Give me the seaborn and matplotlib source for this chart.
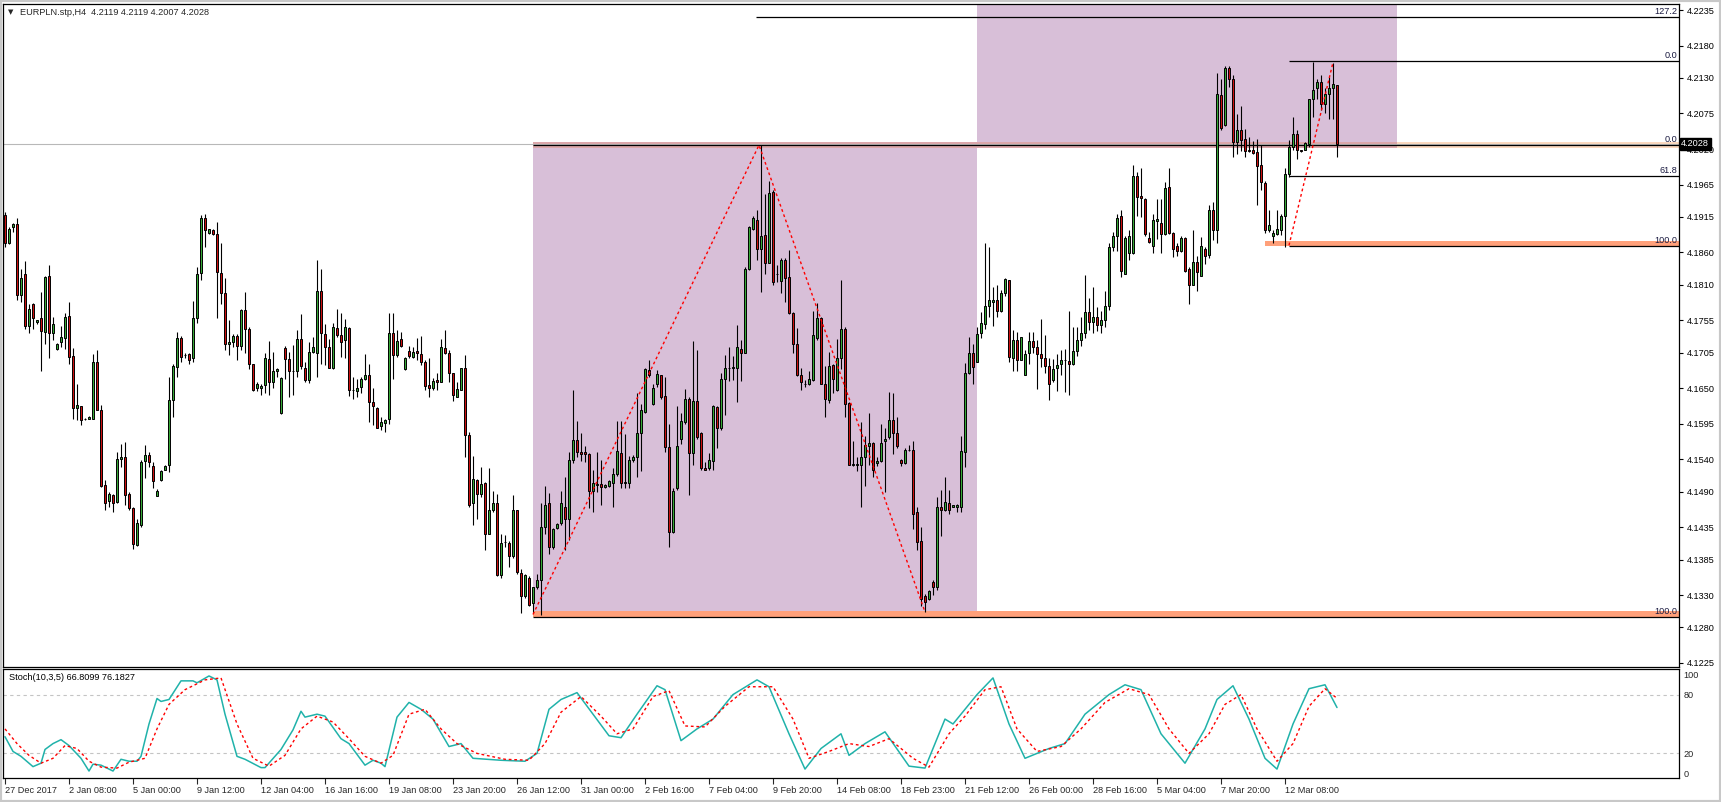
import numpy as np
import matplotlib
matplotlib.use("Agg")
import matplotlib.pyplot as plt
from matplotlib.patches import Rectangle
import seaborn as sns

# EURPLN H4 candles (bar 0 = 27 Dec 2017 00:00)
opens = [
    4.1918, 4.1874, 4.1899, 4.1904, 4.1794, 4.1826, 4.1746, 4.1781, 4.1752, 4.1758,
    4.1737, 4.1824, 4.1735, 4.1710, 4.1721, 4.1728, 4.1761, 4.1700, 4.1620, 4.1623,
    4.1602, 4.1603, 4.1603, 4.1691, 4.1617, 4.1500, 4.1476, 4.1485, 4.1474, 4.1541,
    4.1544, 4.1487, 4.1465, 4.1408, 4.1439, 4.1537, 4.1547, 4.1529, 4.1484, 4.1508,
    4.1524, 4.1532, 4.1632, 4.1683, 4.1727, 4.1701, 4.1703, 4.1696, 4.1758, 4.1828,
    4.1914, 4.1890, 4.1894, 4.1889, 4.1828, 4.1797, 4.1719, 4.1722, 4.1731, 4.1716,
    4.1771, 4.1742, 4.1687, 4.1651, 4.1651, 4.1655, 4.1695, 4.1660, 4.1677, 4.1611,
    4.1712, 4.1695, 4.1677, 4.1676, 4.1726, 4.1682, 4.1662, 4.1706, 4.1705, 4.1800,
    4.1734, 4.1713, 4.1681, 4.1743, 4.1732, 4.1724, 4.1743, 4.1647, 4.1646, 4.1652,
    4.1664, 4.1671, 4.1629, 4.1620, 4.1592, 4.1596, 4.1602, 4.1736, 4.1702, 4.1726,
    4.1680, 4.1708, 4.1699, 4.1707, 4.1703, 4.1691, 4.1655, 4.1651, 4.1663, 4.1660,
    4.1712, 4.1705, 4.1673, 4.1637, 4.1648, 4.1682, 4.1578, 4.1472, 4.1508, 4.1486,
    4.1504, 4.1425, 4.1461, 4.1473, 4.1361, 4.1412, 4.1410, 4.1390, 4.1461, 4.1364,
    4.1328, 4.1357, 4.1318, 4.1342, 4.1354, 4.1435, 4.1472, 4.1405, 4.1434, 4.1441,
    4.1467, 4.1448, 4.1539, 4.1570, 4.1551, 4.1552, 4.1548, 4.1491, 4.1500, 4.1502,
    4.1497, 4.1498, 4.1504, 4.1518, 4.1550, 4.1504, 4.1504, 4.1539, 4.1544, 4.1580,
    4.1613, 4.1678, 4.1625, 4.1656, 4.1670, 4.1638, 4.1559, 4.1428, 4.1495, 4.1571,
    4.1598, 4.1634, 4.1550, 4.1631, 4.1580, 4.1527, 4.1526, 4.1538, 4.1621, 4.1589,
    4.1665, 4.1682, 4.1682, 4.1682, 4.1711, 4.1705, 4.1834, 4.1896, 4.1910, 4.1865,
    4.1887, 4.1844, 4.1954, 4.1826, 4.1816, 4.1848, 4.1822, 4.1767, 4.1719, 4.1671,
    4.1657, 4.1657, 4.1663, 4.1728, 4.1759, 4.1657, 4.1632, 4.1686, 4.1647, 4.1697,
    4.1742, 4.1627, 4.1532, 4.1532, 4.1532, 4.1543, 4.1560, 4.1566, 4.1534, 4.1538,
    4.1568, 4.1574, 4.1601, 4.1580, 4.1539, 4.1534, 4.1555, 4.1554, 4.1458, 4.1413,
    4.1328, 4.1324, 4.1350, 4.1342, 4.1467, 4.1462, 4.1472, 4.1467, 4.1467, 4.1467,
    4.1552, 4.1673, 4.1705, 4.1691, 4.1736, 4.1749, 4.1777, 4.1784, 4.1786, 4.1770,
    4.1797, 4.1817, 4.1697, 4.1724, 4.1694, 4.1671, 4.1705, 4.1723, 4.1714, 4.1703,
    4.1697, 4.1685, 4.1663, 4.1681, 4.1687, 4.1693, 4.1692, 4.1688, 4.1707, 4.1725,
    4.1735, 4.1768, 4.1752, 4.1760, 4.1748, 4.1755, 4.1777, 4.1869, 4.1885, 4.1916,
    4.1827, 4.1859, 4.1859, 4.1978, 4.1948, 4.1943, 4.1883, 4.1870, 4.1909, 4.1906,
    4.1889, 4.1962, 4.1890, 4.1870, 4.1863, 4.1883, 4.1834, 4.1810, 4.1845, 4.1824,
    4.1866, 4.1856, 4.1926, 4.1894, 4.2104, 4.2057, 4.2146, 4.2129, 4.2031, 4.2049,
    4.2035, 4.2019, 4.2019, 4.2015, 4.1996, 4.1968, 4.1894, 4.1885, 4.1888, 4.1895,
    4.1916, 4.1981, 4.2023, 4.2043, 4.2018, 4.2019, 4.2027, 4.2097, 4.2114, 4.2124,
    4.2089, 4.2105, 4.2114, 4.2119,
]
highs = [
    4.1923, 4.1900, 4.1906, 4.1913, 4.1834, 4.1847, 4.1781, 4.1782, 4.1756, 4.1799,
    4.1823, 4.1840, 4.1760, 4.1720, 4.1746, 4.1766, 4.1783, 4.1712, 4.1657, 4.1623,
    4.1604, 4.1607, 4.1703, 4.1709, 4.1624, 4.1508, 4.1490, 4.1487, 4.1551, 4.1564,
    4.1567, 4.1490, 4.1467, 4.1448, 4.1539, 4.1562, 4.1551, 4.1536, 4.1494, 4.1523,
    4.1531, 4.1668, 4.1688, 4.1737, 4.1731, 4.1705, 4.1705, 4.1785, 4.1837, 4.1918,
    4.1920, 4.1897, 4.1896, 4.1907, 4.1874, 4.1821, 4.1755, 4.1734, 4.1734, 4.1773,
    4.1799, 4.1744, 4.1688, 4.1660, 4.1657, 4.1705, 4.1723, 4.1706, 4.1682, 4.1668,
    4.1716, 4.1706, 4.1717, 4.1740, 4.1765, 4.1691, 4.1722, 4.1729, 4.1848, 4.1835,
    4.1750, 4.1726, 4.1751, 4.1772, 4.1767, 4.1757, 4.1744, 4.1668, 4.1664, 4.1667,
    4.1703, 4.1688, 4.1650, 4.1621, 4.1606, 4.1603, 4.1767, 4.1767, 4.1740, 4.1737,
    4.1698, 4.1716, 4.1714, 4.1728, 4.1731, 4.1694, 4.1696, 4.1666, 4.1674, 4.1726,
    4.1740, 4.1709, 4.1674, 4.1660, 4.1682, 4.1701, 4.1583, 4.1545, 4.1510, 4.1528,
    4.1505, 4.1526, 4.1491, 4.1487, 4.1424, 4.1423, 4.1414, 4.1485, 4.1462, 4.1371,
    4.1363, 4.1359, 4.1343, 4.1363, 4.1472, 4.1498, 4.1488, 4.1434, 4.1442, 4.1491,
    4.1512, 4.1551, 4.1648, 4.1599, 4.1580, 4.1560, 4.1550, 4.1523, 4.1551, 4.1539,
    4.1502, 4.1508, 4.1526, 4.1599, 4.1600, 4.1579, 4.1545, 4.1546, 4.1642, 4.1625,
    4.1682, 4.1694, 4.1657, 4.1678, 4.1671, 4.1667, 4.1594, 4.1496, 4.1622, 4.1611,
    4.1649, 4.1637, 4.1723, 4.1709, 4.1583, 4.1536, 4.1550, 4.1624, 4.1622, 4.1674,
    4.1701, 4.1713, 4.1700, 4.1748, 4.1725, 4.1838, 4.1901, 4.1916, 4.1926, 4.2026,
    4.1951, 4.1971, 4.1957, 4.1840, 4.1851, 4.1851, 4.1864, 4.1768, 4.1743, 4.1682,
    4.1662, 4.1677, 4.1769, 4.1782, 4.1760, 4.1684, 4.1706, 4.1688, 4.1726, 4.1817,
    4.1744, 4.1629, 4.1568, 4.1544, 4.1597, 4.1576, 4.1612, 4.1567, 4.1544, 4.1595,
    4.1588, 4.1644, 4.1642, 4.1605, 4.1541, 4.1557, 4.1562, 4.1569, 4.1466, 4.1436,
    4.1331, 4.1338, 4.1354, 4.1482, 4.1493, 4.1513, 4.1493, 4.1470, 4.1471, 4.1576,
    4.1689, 4.1729, 4.1719, 4.1745, 4.1768, 4.1875, 4.1869, 4.1807, 4.1809, 4.1802,
    4.1821, 4.1818, 4.1740, 4.1737, 4.1730, 4.1709, 4.1737, 4.1737, 4.1725, 4.1757,
    4.1732, 4.1697, 4.1695, 4.1703, 4.1709, 4.1711, 4.1769, 4.1745, 4.1745, 4.1760,
    4.1825, 4.1790, 4.1807, 4.1775, 4.1770, 4.1800, 4.1875, 4.1892, 4.1920, 4.1926,
    4.1886, 4.1895, 4.1995, 4.1985, 4.1990, 4.1945, 4.1892, 4.1920, 4.1943, 4.1943,
    4.1969, 4.1991, 4.1892, 4.1874, 4.1885, 4.1884, 4.1838, 4.1894, 4.1854, 4.1884,
    4.1869, 4.1933, 4.1938, 4.2138, 4.2129, 4.2149, 4.2149, 4.2134, 4.2074, 4.2086,
    4.2051, 4.2038, 4.2033, 4.2035, 4.2026, 4.1970, 4.1925, 4.1894, 4.1925, 4.1920,
    4.1990, 4.2034, 4.2069, 4.2050, 4.2019, 4.2031, 4.2098, 4.2155, 4.2128, 4.2135,
    4.2115, 4.2132, 4.2153, 4.2119,
]
lows = [
    4.1869, 4.1873, 4.1892, 4.1787, 4.1784, 4.1741, 4.1735, 4.1741, 4.1750, 4.1677,
    4.1718, 4.1697, 4.1724, 4.1709, 4.1714, 4.1711, 4.1687, 4.1603, 4.1601, 4.1593,
    4.1601, 4.1602, 4.1602, 4.1616, 4.1497, 4.1461, 4.1466, 4.1459, 4.1472, 4.1528,
    4.1469, 4.1461, 4.1402, 4.1406, 4.1435, 4.1511, 4.1528, 4.1496, 4.1484, 4.1507,
    4.1523, 4.1521, 4.1605, 4.1668, 4.1691, 4.1696, 4.1688, 4.1691, 4.1751, 4.1817,
    4.1869, 4.1888, 4.1887, 4.1759, 4.1781, 4.1709, 4.1701, 4.1714, 4.1693, 4.1709,
    4.1704, 4.1680, 4.1645, 4.1645, 4.1639, 4.1642, 4.1639, 4.1650, 4.1668, 4.1610,
    4.1664, 4.1636, 4.1639, 4.1668, 4.1679, 4.1660, 4.1658, 4.1704, 4.1668, 4.1688,
    4.1686, 4.1682, 4.1679, 4.1730, 4.1699, 4.1696, 4.1638, 4.1634, 4.1637, 4.1642,
    4.1663, 4.1598, 4.1593, 4.1588, 4.1585, 4.1583, 4.1595, 4.1664, 4.1699, 4.1714,
    4.1678, 4.1696, 4.1696, 4.1694, 4.1686, 4.1648, 4.1637, 4.1647, 4.1647, 4.1659,
    4.1703, 4.1660, 4.1631, 4.1636, 4.1647, 4.1544, 4.1466, 4.1439, 4.1447, 4.1482,
    4.1400, 4.1424, 4.1459, 4.1359, 4.1357, 4.1405, 4.1373, 4.1388, 4.1363, 4.1302,
    4.1326, 4.1313, 4.1303, 4.1340, 4.1299, 4.1425, 4.1394, 4.1402, 4.1433, 4.1438,
    4.1400, 4.1415, 4.1534, 4.1544, 4.1538, 4.1536, 4.1464, 4.1459, 4.1489, 4.1469,
    4.1496, 4.1497, 4.1467, 4.1515, 4.1495, 4.1495, 4.1495, 4.1536, 4.1513, 4.1522,
    4.1611, 4.1667, 4.1624, 4.1652, 4.1634, 4.1551, 4.1405, 4.1426, 4.1493, 4.1564,
    4.1595, 4.1485, 4.1532, 4.1572, 4.1524, 4.1523, 4.1524, 4.1523, 4.1558, 4.1586,
    4.1609, 4.1661, 4.1663, 4.1629, 4.1661, 4.1704, 4.1833, 4.1895, 4.1849, 4.1799,
    4.1826, 4.1843, 4.1809, 4.1815, 4.1797, 4.1784, 4.1765, 4.1705, 4.1669, 4.1648,
    4.1652, 4.1655, 4.1661, 4.1725, 4.1656, 4.1606, 4.1627, 4.1642, 4.1645, 4.1680,
    4.1606, 4.1531, 4.1529, 4.1522, 4.1466, 4.1499, 4.1531, 4.1513, 4.1529, 4.1536,
    4.1489, 4.1572, 4.1549, 4.1557, 4.1529, 4.1533, 4.1553, 4.1433, 4.1400, 4.1313,
    4.1304, 4.1323, 4.1330, 4.1338, 4.1422, 4.1460, 4.1456, 4.1466, 4.1459, 4.1459,
    4.1528, 4.1672, 4.1657, 4.1690, 4.1728, 4.1741, 4.1760, 4.1746, 4.1760, 4.1768,
    4.1793, 4.1691, 4.1677, 4.1677, 4.1693, 4.1670, 4.1688, 4.1705, 4.1649, 4.1683,
    4.1673, 4.1632, 4.1660, 4.1646, 4.1670, 4.1644, 4.1639, 4.1686, 4.1700, 4.1715,
    4.1728, 4.1740, 4.1735, 4.1738, 4.1735, 4.1745, 4.1771, 4.1863, 4.1863, 4.1822,
    4.1826, 4.1849, 4.1857, 4.1916, 4.1915, 4.1886, 4.1874, 4.1859, 4.1881, 4.1859,
    4.1887, 4.1889, 4.1853, 4.1854, 4.1861, 4.1830, 4.1781, 4.1809, 4.1801, 4.1823,
    4.1842, 4.1852, 4.1880, 4.1875, 4.2049, 4.2055, 4.2116, 4.2007, 4.2012, 4.2017,
    4.2008, 4.2016, 4.2012, 4.1933, 4.1956, 4.1890, 4.1892, 4.1875, 4.1887, 4.1887,
    4.1869, 4.1976, 4.2018, 4.2004, 4.2016, 4.2018, 4.2023, 4.2070, 4.2098, 4.2080,
    4.2076, 4.2066, 4.2066, 4.2007,
]
closes = [
    4.1874, 4.1897, 4.1904, 4.1794, 4.1821, 4.1746, 4.1773, 4.1759, 4.1755, 4.1739,
    4.1822, 4.1735, 4.1750, 4.1718, 4.1729, 4.1760, 4.1699, 4.1620, 4.1624, 4.1601,
    4.1603, 4.1605, 4.1691, 4.1617, 4.1499, 4.1473, 4.1487, 4.1473, 4.1541, 4.1544,
    4.1485, 4.1464, 4.1409, 4.1442, 4.1536, 4.1546, 4.1536, 4.1507, 4.1491, 4.1522,
    4.1530, 4.1632, 4.1684, 4.1727, 4.1699, 4.1701, 4.1694, 4.1758, 4.1826, 4.1914,
    4.1895, 4.1896, 4.1888, 4.1830, 4.1797, 4.1719, 4.1722, 4.1731, 4.1716, 4.1771,
    4.1742, 4.1687, 4.1648, 4.1657, 4.1654, 4.1696, 4.1660, 4.1677, 4.1679, 4.1666,
    4.1695, 4.1677, 4.1677, 4.1726, 4.1684, 4.1662, 4.1706, 4.1713, 4.1800, 4.1735,
    4.1713, 4.1682, 4.1744, 4.1732, 4.1722, 4.1744, 4.1648, 4.1647, 4.1651, 4.1664,
    4.1670, 4.1629, 4.1623, 4.1589, 4.1597, 4.1601, 4.1736, 4.1702, 4.1723, 4.1716,
    4.1696, 4.1700, 4.1706, 4.1704, 4.1691, 4.1653, 4.1651, 4.1661, 4.1659, 4.1714,
    4.1705, 4.1673, 4.1640, 4.1649, 4.1681, 4.1578, 4.1469, 4.1509, 4.1486, 4.1502,
    4.1425, 4.1461, 4.1473, 4.1361, 4.1411, 4.1412, 4.1391, 4.1461, 4.1365, 4.1328,
    4.1361, 4.1314, 4.1342, 4.1354, 4.1436, 4.1470, 4.1405, 4.1433, 4.1440, 4.1472,
    4.1447, 4.1539, 4.1570, 4.1551, 4.1549, 4.1549, 4.1491, 4.1504, 4.1502, 4.1497,
    4.1501, 4.1506, 4.1518, 4.1553, 4.1504, 4.1504, 4.1539, 4.1544, 4.1580, 4.1616,
    4.1680, 4.1671, 4.1651, 4.1672, 4.1637, 4.1559, 4.1427, 4.1491, 4.1560, 4.1599,
    4.1634, 4.1550, 4.1630, 4.1575, 4.1526, 4.1524, 4.1539, 4.1622, 4.1589, 4.1665,
    4.1682, 4.1681, 4.1682, 4.1713, 4.1705, 4.1834, 4.1899, 4.1913, 4.1865, 4.1886,
    4.1843, 4.1952, 4.1815, 4.1826, 4.1849, 4.1820, 4.1766, 4.1719, 4.1671, 4.1659,
    4.1657, 4.1665, 4.1732, 4.1759, 4.1657, 4.1634, 4.1684, 4.1665, 4.1696, 4.1741,
    4.1626, 4.1532, 4.1532, 4.1532, 4.1543, 4.1562, 4.1566, 4.1524, 4.1538, 4.1566,
    4.1572, 4.1601, 4.1580, 4.1561, 4.1534, 4.1555, 4.1554, 4.1456, 4.1412, 4.1324,
    4.1320, 4.1336, 4.1342, 4.1466, 4.1462, 4.1474, 4.1461, 4.1470, 4.1470, 4.1553,
    4.1674, 4.1705, 4.1683, 4.1734, 4.1751, 4.1777, 4.1786, 4.1787, 4.1770, 4.1797,
    4.1819, 4.1699, 4.1724, 4.1694, 4.1729, 4.1703, 4.1723, 4.1714, 4.1703, 4.1697,
    4.1685, 4.1656, 4.1680, 4.1686, 4.1694, 4.1693, 4.1687, 4.1707, 4.1725, 4.1735,
    4.1768, 4.1752, 4.1760, 4.1748, 4.1755, 4.1777, 4.1869, 4.1885, 4.1914, 4.1831,
    4.1883, 4.1885, 4.1978, 4.1946, 4.1944, 4.1888, 4.1876, 4.1910, 4.1912, 4.1889,
    4.1960, 4.1890, 4.1866, 4.1862, 4.1883, 4.1831, 4.1810, 4.1845, 4.1829, 4.1870,
    4.1855, 4.1926, 4.1894, 4.2105, 4.2053, 4.2146, 4.2129, 4.2031, 4.2049, 4.2034,
    4.2017, 4.2017, 4.2014, 4.1994, 4.1969, 4.1894, 4.1902, 4.1890, 4.1896, 4.1916,
    4.1981, 4.2023, 4.2043, 4.2018, 4.2017, 4.2030, 4.2097, 4.2112, 4.2124, 4.2090,
    4.2105, 4.2115, 4.2121, 4.2028,
]

# Stoch(10,3,5) main and signal lines, read at their turning points (bar index, value)
stoch_k_bars = [0, 2, 4, 7, 9, 10, 12, 14, 16, 19, 21, 22, 24, 27, 29, 31, 33, 34, 36, 38,
                39, 41, 44, 47, 48, 51, 53, 55, 58, 60, 64, 65, 69, 72, 74, 75, 78, 80, 84, 86,
                88, 90, 92, 94, 95, 98, 101, 104, 107, 111, 114, 117, 124, 130, 133, 136, 139, 143, 147, 151,
                154, 158, 163, 165, 169, 173, 177, 182, 188, 191, 196, 200, 204, 209, 211, 215, 220, 226, 230, 235,
                237, 243, 247, 251, 255, 261, 265, 270, 276, 280, 284, 289, 295, 300, 303, 307, 311, 315, 318, 322,
                326, 330, 333]
stoch_k = [37, 22, 17, 6.5, 10, 24, 30, 34, 28, 15, 2, 9, 8, 2, 14, 12, 12, 17, 50, 76,
           73, 75, 94, 94, 92, 99, 95, 60, 17, 14, 5.5, 5.5, 24, 44, 63, 57, 60, 58, 35, 30,
           19, 8, 13, 10, 6.5, 57, 72, 65, 55, 27, 30, 15, 13, 12, 20, 65, 75, 82, 60, 38,
           36, 60, 89, 85, 33, 45, 55, 80, 95, 88, 40, 4, 25, 40, 18, 30, 42, 7, 5, 55,
           50, 80, 97, 50, 15, 25, 30, 60, 80, 90, 85, 40, 10, 45, 75, 89, 55, 15, 4, 50,
           86, 90, 66.8]
stoch_d_bars = [0, 3, 6, 9, 12, 15, 18, 21, 24, 28, 31, 35, 38, 41, 45, 50, 54, 58, 62, 66,
                70, 74, 78, 82, 86, 90, 94, 97, 101, 105, 109, 113, 118, 125, 131, 135, 139, 144, 149, 153,
                157, 162, 166, 170, 175, 180, 186, 192, 197, 201, 206, 211, 216, 221, 227, 231, 236, 240, 245, 249,
                253, 258, 264, 269, 275, 281, 286, 291, 296, 301, 305, 309, 313, 318, 322, 326, 330, 333]
stoch_d = [45, 30, 18, 10, 15, 28, 25, 12, 6, 5, 11, 15, 45, 70, 85, 95, 97, 50, 15, 7,
           18, 45, 58, 52, 35, 17, 10, 18, 60, 65, 45, 30, 20, 14, 13, 30, 62, 78, 58, 40,
           45, 78, 84, 48, 47, 68, 88, 88, 55, 15, 22, 30, 27, 35, 15, 6, 40, 58, 85, 88,
           45, 22, 27, 45, 72, 86, 80, 45, 20, 40, 70, 80, 45, 12, 30, 68, 86, 76.2]

x_labels = ["27 Dec 2017", "2 Jan 08:00", "5 Jan 00:00", "9 Jan 12:00", "12 Jan 04:00",
            "16 Jan 16:00", "19 Jan 08:00", "23 Jan 20:00", "26 Jan 12:00", "31 Jan 00:00",
            "2 Feb 16:00", "7 Feb 04:00", "9 Feb 20:00", "14 Feb 08:00", "18 Feb 23:00",
            "21 Feb 12:00", "26 Feb 00:00", "28 Feb 16:00", "5 Mar 04:00", "7 Mar 20:00",
            "12 Mar 08:00"]
price_ticks = [4.2235, 4.2180, 4.2130, 4.2075, 4.2020, 4.1965, 4.1915, 4.1860, 4.1810, 4.1755,
               4.1705, 4.1650, 4.1595, 4.1540, 4.1490, 4.1435, 4.1385, 4.1330, 4.1280, 4.1225]

# drawn objects: two fibo retracements, zigzag lines, rectangles
big_fib_levels = [4.1296, 4.2026, 4.2224]
big_fib_names = ["100.0", "0.0", "127.2"]
small_fib_levels = [4.1870, 4.1979, 4.2156]
small_fib_names = ["100.0", "61.8", "0.0"]
zigzag_bars = [132, 188.5, 230]
zigzag_prices = [4.1300, 4.2026, 4.1304]
zigzag2_bars = [321, 332]
zigzag2_prices = [4.1871, 4.2154]
last_price = 4.2028

W, H = 1721, 802
sns.set_style("white")
plt.rcParams['font.family'] = ['Liberation Sans', 'DejaVu Sans']
FS = 6.6

fig = plt.figure(figsize=(W / 100, H / 100), dpi=100)
ax = fig.add_axes([3 / W, 1 - 667 / H, 1676 / W, 663 / H])
ax2 = fig.add_axes([3 / W, 1 - 778 / H, 1676 / W, 109 / H])
XMAX = 418.5

o = np.array(opens)
c = np.array(closes)
idx = np.arange(len(c))
up = c >= o
body_lo = np.minimum(o, c)
body_h = np.maximum(np.abs(c - o), 0.00002)
colors = np.where(up, '#36a836', '#cc1010')

# rectangles
ax.add_patch(Rectangle((132, 4.1305), 243 - 132, 4.2025 - 4.1305, facecolor='#d8bfd8', edgecolor='none', zorder=1))
ax.add_patch(Rectangle((243, 4.2022), 348 - 243, 0.03, facecolor='#d8bfd8', edgecolor='none', zorder=1))

# level bands
ax.fill_between([132, 348], 4.2021, 4.2031, color='#dca7aa', lw=0, zorder=1.5)
ax.fill_between([348, XMAX], 4.2021, 4.2031, color='#fcd9bf', lw=0, zorder=1.5)
ax.fill_between([132, XMAX], 4.1296, 4.1306, color='#ffa07a', lw=0, zorder=1.5)
ax.fill_between([315, XMAX], 4.1870, 4.1878, color='#ffa07a', lw=0, zorder=1.5)

ax.axhline(last_price, color='#b8b8b8', lw=0.8, zorder=1.6)

# fib lines
for lv, nm in zip(big_fib_levels, big_fib_names):
    x0 = 187.75 if nm == "127.2" else 132
    ax.hlines(lv, x0, XMAX, color='black', lw=0.9, zorder=2)
    ax.text(XMAX - 0.4, lv + 0.0001, nm, ha='right', va='bottom', fontsize=FS, color='#1a1a40', zorder=6)
for lv, nm in zip(small_fib_levels, small_fib_names):
    ax.hlines(lv, 321, XMAX, color='black', lw=0.9, zorder=2)
    ax.text(XMAX - 0.4, lv + 0.0001, nm, ha='right', va='bottom', fontsize=FS, color='#1a1a40', zorder=6)

# candles
ax.vlines(idx, lows, highs, color='black', lw=0.8, zorder=3)
ax.bar(idx, body_h, bottom=body_lo, width=0.6, color=colors, edgecolor='black', linewidth=0.7, zorder=4)

ax.plot(zigzag_bars, zigzag_prices, color='red', ls=(0, (2, 2)), lw=1, zorder=5)
ax.plot(zigzag2_bars, zigzag2_prices, color='red', ls=(0, (2, 2)), lw=1, zorder=5)

ax.set_xlim(-0.5, XMAX)
ax.set_ylim(4.12188, 4.22443)
ax.set_xticks([])
ax.yaxis.tick_right()
ax.set_yticks(price_ticks)
ax.set_yticklabels(['%.4f' % t for t in price_ticks])
ax.tick_params(axis='y', which='both', right=True, length=3, width=0.8, pad=2.5, labelsize=FS, colors='black')
for s in ax.spines.values():
    s.set_color('black')
    s.set_linewidth(0.9)

ax.text(1.0013, last_price, '%.4f' % last_price, transform=ax.get_yaxis_transform(), ha='left', va='center',
        fontsize=FS, color='white', zorder=10,
        bbox=dict(boxstyle='square,pad=0.18', fc='black', ec='black'))

# stochastic panel
ax2.axhline(80, color='#c4c4c4', ls=(0, (3, 3)), lw=0.8)
ax2.axhline(20, color='#c4c4c4', ls=(0, (3, 3)), lw=0.8)
sns.lineplot(x=stoch_k_bars, y=stoch_k, ax=ax2, color='#20b2aa', lw=1.1)
sns.lineplot(x=stoch_d_bars, y=stoch_d, ax=ax2, color='red', lw=1.0, linestyle=(0, (2, 2)))
ax2.set_xlim(-0.5, XMAX)
ax2.set_ylim(-5.1, 106.1)
ax2.yaxis.tick_right()
ax2.set_yticks([0, 20, 80, 100])
ax2.set_yticklabels(['0', '20', '80', '100'])
ax2.tick_params(axis='y', length=0, pad=3, labelsize=FS)
ax2.set_xticks(list(range(0, 16 * len(x_labels), 16)))
ax2.set_xticklabels(x_labels)
for lab in ax2.get_xticklabels():
    lab.set_ha('left')
ax2.tick_params(axis='x', bottom=True, length=4, width=0.8, pad=1.5, labelsize=FS)
ax2.set_xlabel('')
ax2.set_ylabel('')
for s in ax2.spines.values():
    s.set_color('black')
    s.set_linewidth(0.9)
ax2.text(6 / 1676, 0.925, 'Stoch(10,3,5) 66.8099 76.1827', transform=ax2.transAxes, ha='left', va='center',
         fontsize=FS, color='black')

fig.text(8 / W, 1 - 12.5 / H, '\u25bc', fontsize=5, ha='left', va='center', family=['DejaVu Sans'])
fig.text(20 / W, 1 - 12.5 / H, 'EURPLN.stp,H4  4.2119 4.2119 4.2007 4.2028', fontsize=FS, ha='left', va='center')

fig.patches.append(Rectangle((0, 0), 1, 1, transform=fig.transFigure, fill=False, ec='#c8c8c8', lw=3))

fig.savefig('out.png', dpi=100, facecolor='white')
